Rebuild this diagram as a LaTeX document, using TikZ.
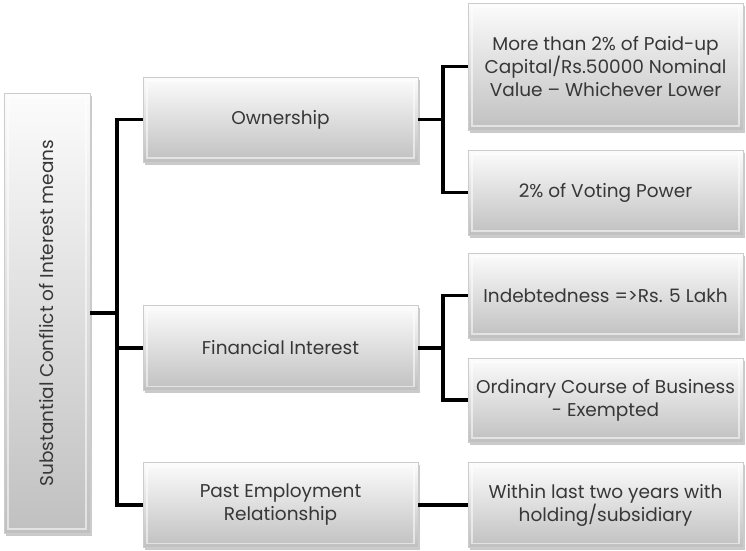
\documentclass[tikz,border=0pt]{standalone}
\usepackage{fontspec}
\setmainfont{Poppins}
\usetikzlibrary{shadows}
\definecolor{boxtop}{RGB}{252,252,252}
\definecolor{boxbot}{RGB}{192,192,192}
\definecolor{txt}{RGB}{55,55,55}
\tikzset{
  box/.style={rectangle, top color=boxtop, bottom color=boxbot, draw=white!80!black, line width=0.5pt,
    drop shadow={shadow xshift=1.5pt, shadow yshift=-2.5pt, opacity=0.35, fill=black!60},
    path picture={\draw[white, opacity=0.55, line width=1.2pt]
      ([xshift=4pt,yshift=4pt]path picture bounding box.south west) rectangle
      ([xshift=-4pt,yshift=-4pt]path picture bounding box.north east);},
    text=txt, align=center, font=\fontsize{18.5}{23}\selectfont, inner sep=2pt},
  conn/.style={line width=3.2pt, black}
}
\begin{document}
\begin{tikzpicture}[x=1pt,y=-1pt]
\useasboundingbox (0,0) rectangle (746,550);
\node[box, minimum width=86pt, minimum height=440pt] (root) at (47,313) {\rotatebox{90}{Substantial Conflict of Interest means}};
\node[box, minimum width=275pt, minimum height=85pt] (own) at (280.5,119.5) {Ownership};
\node[box, minimum width=275pt, minimum height=85pt] (fin) at (280.5,348) {Financial Interest};
\node[box, minimum width=275pt, minimum height=85pt] (pe) at (280.5,505) {Past Employment\\Relationship};
\node[box, minimum width=275pt, minimum height=127pt] (o1) at (605.5,66.5) {More than 2\% of Paid-up\\Capital/Rs.50000 Nominal\\Value – Whichever Lower};
\node[box, minimum width=275pt, minimum height=85pt] (o2) at (605.5,192.5) {2\% of Voting Power};
\node[box, minimum width=275pt, minimum height=85pt] (f1) at (605.5,295.5) {Indebtedness =>Rs. 5 Lakh};
\node[box, minimum width=275pt, minimum height=84pt] (f2) at (605.5,400) {Ordinary Course of Business\\- Exempted};
\node[box, minimum width=275pt, minimum height=85pt] (p1) at (605.5,505) {Within last two years with\\holding/subsidiary};
\coordinate (t0) at (117,313);
\coordinate (t1) at (443,119.5);
\coordinate (t2) at (443,348);
\draw[conn] (root.east) -- (t0);
\draw[conn] (t0) |- (own.west);
\draw[conn] (t0) |- (fin.west);
\draw[conn] (t0) |- (pe.west);
\draw[conn] (own.east) -- (t1);
\draw[conn] (t1) |- (o1.west);
\draw[conn] (t1) |- (o2.west);
\draw[conn] (fin.east) -- (t2);
\draw[conn] (t2) |- (f1.west);
\draw[conn] (t2) |- (f2.west);
\draw[conn] (pe.east) -- (p1.west);
\end{tikzpicture}
\end{document}
